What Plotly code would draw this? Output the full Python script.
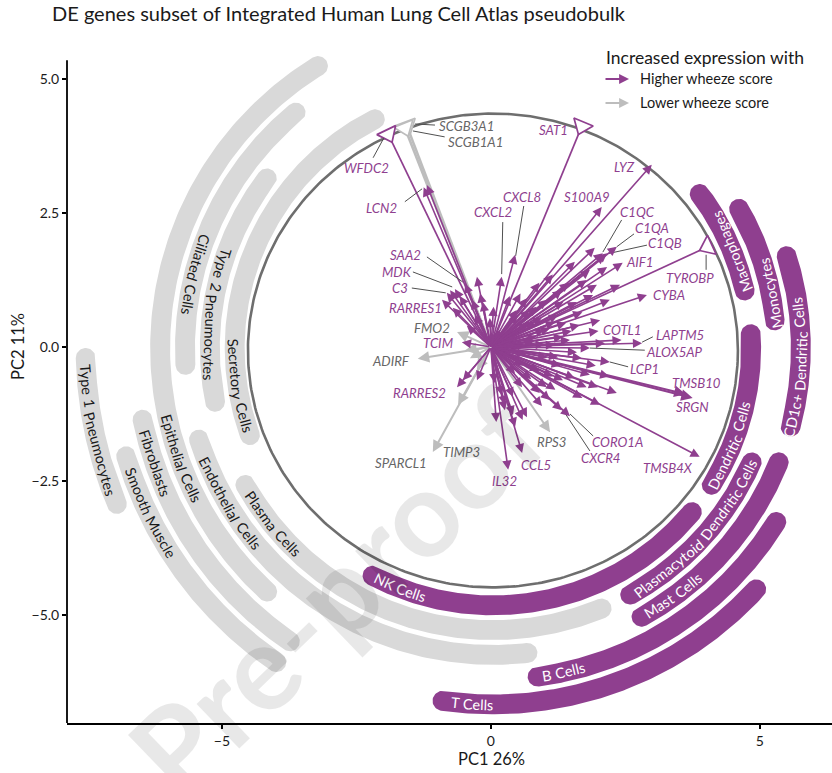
import math
import numpy as np
import plotly.graph_objects as go

# ---------------------------------------------------------------- data
TITLE = "DE genes subset of Integrated Human Lung Cell Atlas pseudobulk"
X_TITLE = "PC1 26%"
Y_TITLE = "PC2 11%"
X_TICKS = [-5, 0, 5]
Y_TICKS = [-5.0, -2.5, 0.0, 2.5, 5.0]

# labelled loadings, higher wheeze score
HI_GENES = ["LCN2", "CXCL2", "CXCL8", "SAA2", "MDK", "C3", "RARRES1", "TCIM", "RARRES2",
            "IL32", "CCL5", "CORO1A", "CXCR4", "TMSB4X", "SRGN", "TMSB10", "LCP1", "ALOX5AP",
            "LAPTM5", "COTL1", "CYBA", "AIF1", "C1QB", "C1QA", "C1QC", "LYZ", "S100A9"]
HI_PC1 = [-1.19, 0.20, 0.45, -0.48, -0.67, -0.82, -0.71, -0.54, -0.63,
          0.32, 0.58, 1.47, 1.32, 3.88, 3.75, 3.62, 2.21, 1.84,
          2.81, 2.43, 2.90, 2.45, 2.16, 2.34, 2.08, 2.99, 2.06]
HI_PC2 = [3.02, 1.31, 1.72, 1.18, 1.08, 1.01, 0.73, 0.09, -0.75,
          -2.29, -1.98, -1.29, -1.18, -2.05, -0.95, -0.88, -0.28, -0.02,
          0.07, 0.13, 0.97, 1.57, 1.75, 1.87, 1.75, 3.40, 2.61]

# loadings beyond the circle (shown truncated at the circle)
HI_TRUNC_GENES = ["SAT1", "WFDC2", "TYROBP"]
HI_TRUNC_PC1 = [1.69, -1.91, 4.03]
HI_TRUNC_PC2 = [4.12, 3.97, 1.87]
LO_TRUNC_GENES = ["SCGB3A1", "SCGB1A1"]
LO_TRUNC_PC1 = [-1.56, -1.60]
LO_TRUNC_PC2 = [4.12, 4.09]

# labelled loadings, lower wheeze score
LO_GENES = ["FMO2", "ADIRF", "SPARCL1", "TIMP3", "RPS3"]
LO_PC1 = [-0.63, -1.36, -1.08, -0.61, 1.10]
LO_PC2 = [0.28, -0.22, -1.96, -1.08, -1.59]

# unlabelled loadings
LO_UNL_PC1 = [-0.48, -0.39, -0.26]
LO_UNL_PC2 = [-0.06, -0.21, -0.43]
HI_UNL_PC1 = [-1.25, -0.26, -0.76, -0.91, -0.58, -0.35, -0.15, 1.93, 2.12, 2.16, 1.78, 1.97,
              1.90, 1.60, 1.32, 1.04, 0.67, 0.72, 0.48, 1.84, 1.56, 1.34, 1.25, 1.69, 1.84,
              1.99, 1.34, 1.04, 0.58, 0.41, 0.26, 0.07, 0.67, 1.19, 1.47, 1.00, 1.19, 0.82,
              -0.52, -0.26, 0.26, 0.41, 0.59, 0.45, 0.91, 1.10, 1.78, 2.34, 1.56, 2.21, 2.40,
              2.03, 1.65, 0.54, 0.17, -0.02, 2.12, 0.95, 1.10, 0.85, 1.25, 0.70, 1.40, 1.30,
              0.90, 1.15, 0.60, 0.75, 1.50, 1.60, 0.50, 0.35, 0.55, 0.90, 1.15, 1.45, 1.70,
              2.00, 1.95, 2.20, 1.70, 0.95, 0.20, 0.10, -0.30, -0.45, -0.20, 0.05, 2.03,
              0.80, 1.05, 0.65, 1.35, 1.20, 0.45, 0.85, 1.00]
HI_UNL_PC2 = [2.98, 1.31, 1.06, 0.88, 0.95, 0.88, 0.84, 1.85, 1.72, 1.49, 1.25, 1.16,
              0.97, 0.84, 1.06, 0.88, 0.91, 0.69, 0.69, 1.44, 1.59, 0.19, -0.19, -0.21, -0.52,
              -0.75, -0.62, -0.75, -0.75, -0.93, -1.18, -0.67, -1.31, 0.04, 0.13, 0.32, 0.47, 0.47,
              -0.62, -0.62, -1.08, -1.27, -1.36, -1.49, -0.86, -0.99, -0.75, -0.86, -0.58, 0.88, 1.16,
              0.50, 0.41, 0.04, 0.32, 0.54, 0.07, 0.55, 0.35, 0.20, 0.60, 0.45, 0.45, -0.35,
              -0.45, -0.55, -0.35, -0.60, 0.30, -0.10, 0.60, 0.95, 1.00, 1.20, 1.35, 1.20, 0.65,
              0.30, -0.35, -0.55, -0.95, -1.10, -0.90, -1.40, 0.60, 0.40, 1.00, 0.75, -1.08,
              0.10, -0.20, -0.15, 0.85, -0.80, -0.50, 0.75, 0.05]

# cell-type arcs
CELL_TYPES = ["Secretory Cells", "Type 2 Pneumocytes", "Ciliated Cells", "Epithelial Cells",
              "Fibroblasts", "Smooth Muscle", "Type 1 Pneumocytes", "Plasma Cells",
              "Endothelial Cells", "Macrophages", "Monocytes", "CD1c+ Dendritic Cells",
              "Dendritic Cells", "NK Cells", "Plasmacytoid Dendritic Cells", "Mast Cells",
              "B Cells", "T Cells"]
CELL_WHEEZE = ["lower"] * 9 + ["higher"] * 9
CELL_RING = [0, 1, 2, 3, 4, 5, 6, 1, 2, 0, 1, 2, 0, 0, 1, 2, 3, 4]
CELL_ANGLE_FROM = [115, 141, 128, 120, 190, 195, 180, 207, 195.5,
                   10.7, 3.6, -16.7, -34.3, -120, -63, -63, -84, -99.7]
CELL_ANGLE_TO = [202, 193, 185, 229, 237, 237, 204, 294.6, 278.3,
                 39, 31.6, 19.3, 5.3, -37.4, -21.9, -20, -29.9, -41]
CELL_LABEL_ANGLE = [188.5, 173, 166, 199.5, 198.8, 205.7, 191.7, 218.8, 210.6,
                    22, 11.2, -3.7, -22.5, -111, -41.7, -54, -77.8, -93.3]

LEGEND_TITLE = "Increased expression with"
LEGEND_ITEMS = ["Higher wheeze score", "Lower wheeze score"]
WATERMARK = "Pre-proof"

# ---------------------------------------------------------------- style / layout
W, H = 832, 773
ML, MR, MT, MB = 67, 0, 40, 50
X_RANGE = [-7.88, 6.34]
Y_RANGE = [-7.015, 5.727]
Y_AXIS_TOP = 5.35
PX = 53.7

FONT = "Lato"
PURPLE = "#8F3F8F"
GRAY_BAND = "#D9D9D9"
GRAY_ARROW = "#BDBDBD"
GRAY_TEXT = "#666666"
CIRCLE_COL = "#6E6E6E"
LEADER_COL = "#505050"

ARC_C = (0.037, -0.02)
R0, DR, HW = 4.80, 0.462, 0.185
CIRC_C = (0.037, -0.065)
CIRC_RX, CIRC_RY = 4.554, 4.42

# gene label positions (text centre) and optional leader segment
LABELS = {
    "SCGB3A1": ((-0.45, 4.12), ((-1.04, 4.14), (-1.41, 4.16))),
    "SCGB1A1": ((-0.28, 3.83), ((-0.86, 3.92), (-1.45, 4.03))),
    "WFDC2": ((-2.32, 3.34), ((-2.19, 3.53), (-1.99, 3.90))),
    "LCN2": ((-2.04, 2.59), ((-1.60, 2.71), (-1.28, 2.95))),
    "SAT1": ((1.17, 4.05), None),
    "CXCL2": ((0.04, 2.52), ((0.22, 2.33), (0.20, 1.36))),
    "CXCL8": ((0.58, 2.80), ((0.61, 2.63), (0.46, 1.70))),
    "S100A9": ((1.78, 2.80), None),
    "LYZ": ((2.49, 3.36), None),
    "C1QC": ((2.73, 2.52), ((2.43, 2.37), (2.08, 1.77))),
    "C1QA": ((2.99, 2.22), ((2.66, 2.11), (2.34, 1.87))),
    "C1QB": ((3.23, 1.94), ((2.90, 1.90), (2.17, 1.74))),
    "AIF1": ((2.77, 1.59), None),
    "TYROBP": ((3.70, 1.29), ((4.00, 1.44), (4.00, 1.72))),
    "CYBA": ((3.31, 0.97), None),
    "COTL1": ((2.45, 0.32), None),
    "LAPTM5": ((3.51, 0.22), ((3.01, 0.19), (2.81, 0.09))),
    "ALOX5AP": ((3.42, -0.09), ((2.86, -0.06), (1.84, -0.02))),
    "LCP1": ((2.86, -0.41), ((2.55, -0.37), (2.21, -0.28))),
    "TMSB10": ((3.83, -0.67), None),
    "SRGN": ((3.75, -1.12), None),
    "TMSB4X": ((3.29, -2.26), None),
    "CORO1A": ((2.36, -1.77), ((1.90, -1.66), (1.47, -1.25))),
    "CXCR4": ((2.03, -2.07), ((1.84, -1.94), (1.34, -1.18))),
    "RPS3": ((1.13, -1.77), None),
    "CCL5": ((0.84, -2.20), None),
    "IL32": ((0.26, -2.50), None),
    "SAA2": ((-1.58, 1.72), ((-1.19, 1.68), (-0.52, 1.21))),
    "MDK": ((-1.75, 1.40), ((-1.45, 1.40), (-0.72, 1.12))),
    "C3": ((-1.69, 1.10), ((-1.47, 1.10), (-0.84, 1.01))),
    "RARRES1": ((-1.41, 0.73), None),
    "FMO2": ((-1.10, 0.35), None),
    "TCIM": ((-0.99, 0.07), None),
    "ADIRF": ((-1.86, -0.26), None),
    "RARRES2": ((-1.32, -0.86), None),
    "TIMP3": ((-0.54, -1.96), None),
    "SPARCL1": ((-1.67, -2.16), None),
}

# approximate Lato advance widths (em); space widened a little for word gaps
CW = {" ": 0.27, "a": 0.51, "b": 0.56, "c": 0.46, "d": 0.56, "e": 0.53, "f": 0.32, "g": 0.5,
      "h": 0.56, "i": 0.24, "j": 0.24, "k": 0.5, "l": 0.24, "m": 0.83, "n": 0.56, "o": 0.56,
      "p": 0.56, "q": 0.56, "r": 0.37, "s": 0.42, "t": 0.35, "u": 0.56, "v": 0.5, "w": 0.77,
      "x": 0.49, "y": 0.5, "z": 0.45, "A": 0.68, "B": 0.64, "C": 0.66, "D": 0.74, "E": 0.56,
      "M": 0.91, "N": 0.75, "P": 0.6, "S": 0.52, "T": 0.58, "+": 0.58, "1": 0.58, "2": 0.58}


def text_w(s, size):
    return sum(CW.get(ch, 0.58) for ch in s) * size


def px2paper(px, py):
    return (px - ML) / (W - ML - MR), (H - MB - py) / (H - MT - MB)


fig = go.Figure()

# ---------------------------------------------------------------- arcs
for name, grp, ring, a0, a1 in zip(CELL_TYPES, CELL_WHEEZE, CELL_RING, CELL_ANGLE_FROM, CELL_ANGLE_TO):
    r = R0 + DR * ring
    t0 = math.radians(a0) + HW / r
    t1 = math.radians(a1) - HW / r
    th = np.linspace(t0, t1, 120)
    cap = np.linspace(0, math.pi, 30)
    xs = list(ARC_C[0] + (r + HW) * np.cos(th))
    ys = list(ARC_C[1] + (r + HW) * np.sin(th))
    e = (ARC_C[0] + r * math.cos(t1), ARC_C[1] + r * math.sin(t1))
    xs += list(e[0] + HW * np.cos(t1 + cap))
    ys += list(e[1] + HW * np.sin(t1 + cap))
    xs += list(ARC_C[0] + (r - HW) * np.cos(th[::-1]))
    ys += list(ARC_C[1] + (r - HW) * np.sin(th[::-1]))
    s = (ARC_C[0] + r * math.cos(t0), ARC_C[1] + r * math.sin(t0))
    xs += list(s[0] + HW * np.cos(t0 + math.pi + cap))
    ys += list(s[1] + HW * np.sin(t0 + math.pi + cap))
    col = PURPLE if grp == "higher" else GRAY_BAND
    fig.add_trace(go.Scatter(x=xs, y=ys, mode="lines", fill="toself", fillcolor=col,
                             line=dict(width=0, color=col), hoverinfo="skip", showlegend=False))

# circle
tt = np.linspace(0, 2 * math.pi, 400)
fig.add_trace(go.Scatter(x=CIRC_C[0] + CIRC_RX * np.cos(tt), y=CIRC_C[1] + CIRC_RY * np.sin(tt),
                         mode="lines", line=dict(color=CIRCLE_COL, width=2.6),
                         hoverinfo="skip", showlegend=False))


def seg_trace(xs, ys, color, width):
    X, Y = [], []
    for x, y in zip(xs, ys):
        X += [0, x, None]
        Y += [0, y, None]
    return go.Scatter(x=X, y=Y, mode="lines", line=dict(color=color, width=width),
                      hoverinfo="skip", showlegend=False)


fig.add_trace(seg_trace(LO_TRUNC_PC1, LO_TRUNC_PC2, GRAY_ARROW, 2.6))
fig.add_trace(seg_trace(HI_TRUNC_PC1, HI_TRUNC_PC2, PURPLE, 1.7))


def tri_trace(xs, ys, color):
    ang = [-90 - math.degrees(math.atan2(y, x)) for x, y in zip(xs, ys)]
    return go.Scatter(x=xs, y=ys, mode="markers",
                      marker=dict(symbol="triangle-up", size=18, color="white", angle=ang,
                                  line=dict(color=color, width=1.7)),
                      hoverinfo="skip", showlegend=False)


fig.add_trace(tri_trace(LO_TRUNC_PC1, LO_TRUNC_PC2, GRAY_ARROW))
fig.add_trace(tri_trace(HI_TRUNC_PC1, HI_TRUNC_PC2, PURPLE))

# leader lines
LX, LY = [], []
for g, (pos, lead) in LABELS.items():
    if lead:
        LX += [lead[0][0], lead[1][0], None]
        LY += [lead[0][1], lead[1][1], None]
fig.add_trace(go.Scatter(x=LX, y=LY, mode="lines", line=dict(color=LEADER_COL, width=1),
                         hoverinfo="skip", showlegend=False))

ann = []


def arrow(x, y, color, width):
    ann.append(dict(x=x, y=y, ax=0, ay=0, xref="x", yref="y", axref="x", ayref="y",
                    text="", showarrow=True, arrowhead=2, arrowsize=1.15,
                    arrowwidth=width, arrowcolor=color, standoff=0))


for x, y in zip(LO_UNL_PC1 + LO_PC1, LO_UNL_PC2 + LO_PC2):
    arrow(x, y, GRAY_ARROW, 2.0)
for x, y in zip(HI_UNL_PC1, HI_UNL_PC2):
    arrow(x, y, PURPLE, 1.6)
for g, x, y in zip(HI_GENES, HI_PC1, HI_PC2):
    arrow(x, y, PURPLE, 2.0 if g in ("SRGN", "TMSB10") else 1.6)

# gene labels
hi_set = set(HI_GENES) | set(HI_TRUNC_GENES)
for g, (pos, lead) in LABELS.items():
    col = PURPLE if g in hi_set else GRAY_TEXT
    ann.append(dict(x=pos[0], y=pos[1], xref="x", yref="y", text=g, showarrow=False,
                    font=dict(family=FONT, size=13.2, color=col, style="italic"),
                    xanchor="center", yanchor="middle"))

# arc labels, word by word along the arc
ARC_FS = 14.5
for name, grp, ring, la in zip(CELL_TYPES, CELL_WHEEZE, CELL_RING, CELL_LABEL_ANGLE):
    r = R0 + DR * ring
    words = name.split(" ")
    ws = [text_w(w, ARC_FS) for w in words]
    sp = text_w(" ", ARC_FS)
    total = sum(ws) + sp * (len(words) - 1)
    s = -total / 2
    col = "white" if grp == "higher" else "#1A1A1A"
    for w, wd in zip(words, ws):
        mid = s + wd / 2
        th = math.radians(la) + mid / (r * PX)
        ta = (270 - math.degrees(th)) % 360
        if ta > 180:
            ta -= 360
        ann.append(dict(x=ARC_C[0] + r * math.cos(th), y=ARC_C[1] + r * math.sin(th),
                        xref="x", yref="y", text=w, showarrow=False, textangle=ta,
                        font=dict(family=FONT, size=ARC_FS, color=col),
                        xanchor="center", yanchor="middle"))
        s += wd + sp

# legend
lx, ly = px2paper(604, 57)
ann.append(dict(x=lx, y=ly, xref="paper", yref="paper", text=LEGEND_TITLE, showarrow=False,
                xanchor="left", yanchor="middle", font=dict(family=FONT, size=17.5, color="#1A1A1A")))
for i, (txt, col) in enumerate(zip(LEGEND_ITEMS, [PURPLE, GRAY_ARROW])):
    py = 79 + 24 * i
    hx, hy = px2paper(629, py)
    ann.append(dict(x=hx, y=hy, xref="paper", yref="paper", ax=-25, ay=0, text="",
                    showarrow=True, arrowhead=2, arrowsize=1.1, arrowwidth=1.8,
                    arrowcolor=col, standoff=0))
    tx, ty = px2paper(638, py)
    ann.append(dict(x=tx, y=ty, xref="paper", yref="paper", text=txt, showarrow=False,
                    xanchor="left", yanchor="middle",
                    font=dict(family=FONT, size=14.5, color="#1A1A1A")))

# axis titles
ax_, ay_ = px2paper(491, 759)
ann.append(dict(x=ax_, y=ay_, xref="paper", yref="paper", text=X_TITLE, showarrow=False,
                xanchor="center", yanchor="middle", font=dict(family=FONT, size=16.5, color="#1A1A1A")))
ax_, ay_ = px2paper(18, 347)
ann.append(dict(x=ax_, y=ay_, xref="paper", yref="paper", text=Y_TITLE, showarrow=False,
                textangle=-90, xanchor="center", yanchor="middle",
                font=dict(family=FONT, size=16.5, color="#1A1A1A")))

# watermark
wx, wy = px2paper(335, 592)
ann.append(dict(x=wx, y=wy, xref="paper", yref="paper", text=WATERMARK, showarrow=False,
                textangle=-44, xanchor="center", yanchor="middle",
                font=dict(family=FONT, size=120, weight=700, color="rgba(0,0,0,0.09)")))

fig.update_layout(
    width=W, height=H,
    margin=dict(l=ML, r=MR, t=MT, b=MB),
    paper_bgcolor="white", plot_bgcolor="white",
    showlegend=False,
    title=dict(text=TITLE, x=52 / W, xanchor="left", xref="container",
               y=1 - 14 / H, yanchor="middle", yref="container",
               font=dict(family=FONT, size=20, color="#1A1A1A")),
    xaxis=dict(range=X_RANGE, tickvals=X_TICKS, showgrid=False, zeroline=False,
               showline=True, linecolor="black", linewidth=1.8, ticks="outside",
               ticklen=4, tickwidth=1.6, tickcolor="black",
               tickfont=dict(family=FONT, size=14, color="#1A1A1A")),
    yaxis=dict(range=Y_RANGE, tickvals=Y_TICKS, tickformat=".1f", showgrid=False,
               zeroline=False, showline=False, ticks="outside", ticklen=4, tickwidth=1.6,
               tickcolor="black", tickfont=dict(family=FONT, size=14, color="#1A1A1A")),
    annotations=ann,
    shapes=[dict(type="line", xref="paper", yref="y", x0=0, x1=0, y0=Y_RANGE[0], y1=Y_AXIS_TOP,
                 line=dict(color="black", width=1.8))],
)

fig.write_html("out.html", config={"displayModeBar": False},
               post_script="document.body.style.margin='0px';")
